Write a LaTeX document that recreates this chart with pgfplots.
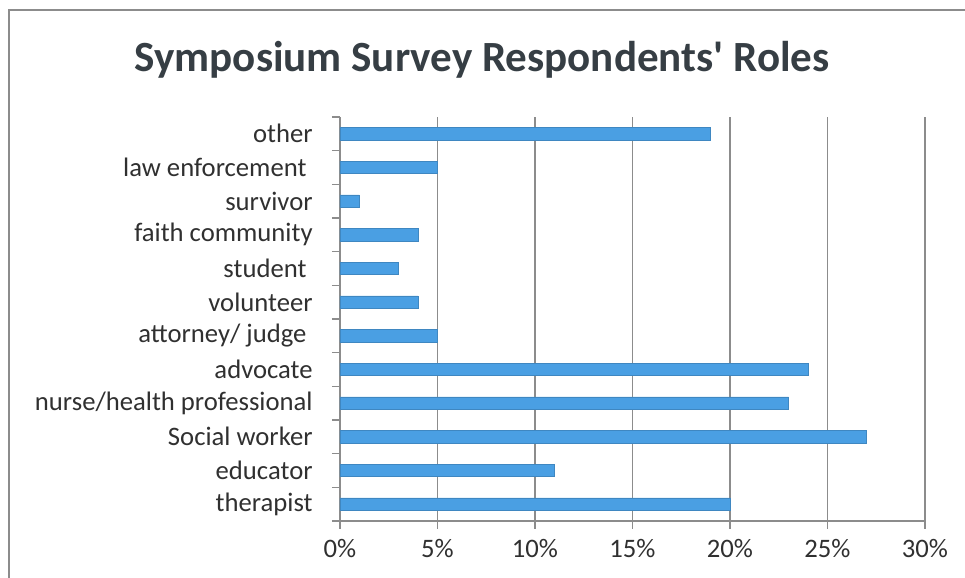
\documentclass[border=0pt]{standalone}
\usepackage{fontspec}
\setmainfont{Carlito}
\usepackage{pgfplots}
\usepackage{pgfplotstable}
\pgfplotsset{compat=1.18}
\definecolor{barblue}{HTML}{4A9FE3}
\definecolor{gridgray}{HTML}{8C8C8C}
\definecolor{titlegray}{HTML}{363E44}
\definecolor{labelgray}{HTML}{303030}
\pgfplotstableread[col sep=comma]{
y,value
0,20
1,11
2,27
3,23
4,24
5,5
6,4
7,3
8,4
9,1
10,5
11,19
}\roles
\newcommand{\tsp}{\kern0.23em}
\begin{document}
\begin{tikzpicture}
\path[use as bounding box] (0pt,0pt) rectangle (723.75pt,433.5pt);
\draw[gridgray, line width=1pt] (6.75pt,-5pt) -- (6.75pt,426pt) -- (730pt,426pt);
\node[font=\fontsize{32.3}{36}\selectfont\bfseries, text=titlegray] at (361.5pt,388.5pt) {Symposium Survey Respondents\textquotesingle{} Roles};
\begin{axis}[
  at={(255pt,42.75pt)}, anchor=south west,
  scale only axis, width=438.75pt, height=303pt,
  xbar, bar width=9.4pt,
  xmin=0, xmax=30, ymin=-0.5, ymax=11.5,
  axis lines*=left,
  axis line style={-, draw=gridgray, line width=0.8pt},
  xtick={0,5,...,30},
  xticklabels={0\%,5\%,10\%,15\%,20\%,25\%,30\%},
  ytick={-0.5,0.5,...,11.5},
  yticklabels={},
  extra y ticks={0,1,...,11},
  extra y tick labels={therapist,educator,Social worker,nurse/health professional,advocate,{attorney/ judge\tsp},volunteer,{student\tsp},faith community,survivor,{law enforcement\tsp},other},
  extra y tick style={major tick length=0pt},
  tick align=outside,
  major tick length=6pt,
  tick style={draw=gridgray, line width=0.8pt},
  xmajorgrids, grid style={draw=gridgray, line width=0.8pt},
  ticklabel style={font=\fontsize{20}{24}\selectfont, text=labelgray},
  x tick label style={yshift=-4pt},
  y tick label style={xshift=-17pt},
  clip=false,
]
\addplot[fill=barblue, draw=barblue!85!black, line width=0.4pt] table[x=value, y=y] {\roles};
\end{axis}
\end{tikzpicture}
\end{document}
